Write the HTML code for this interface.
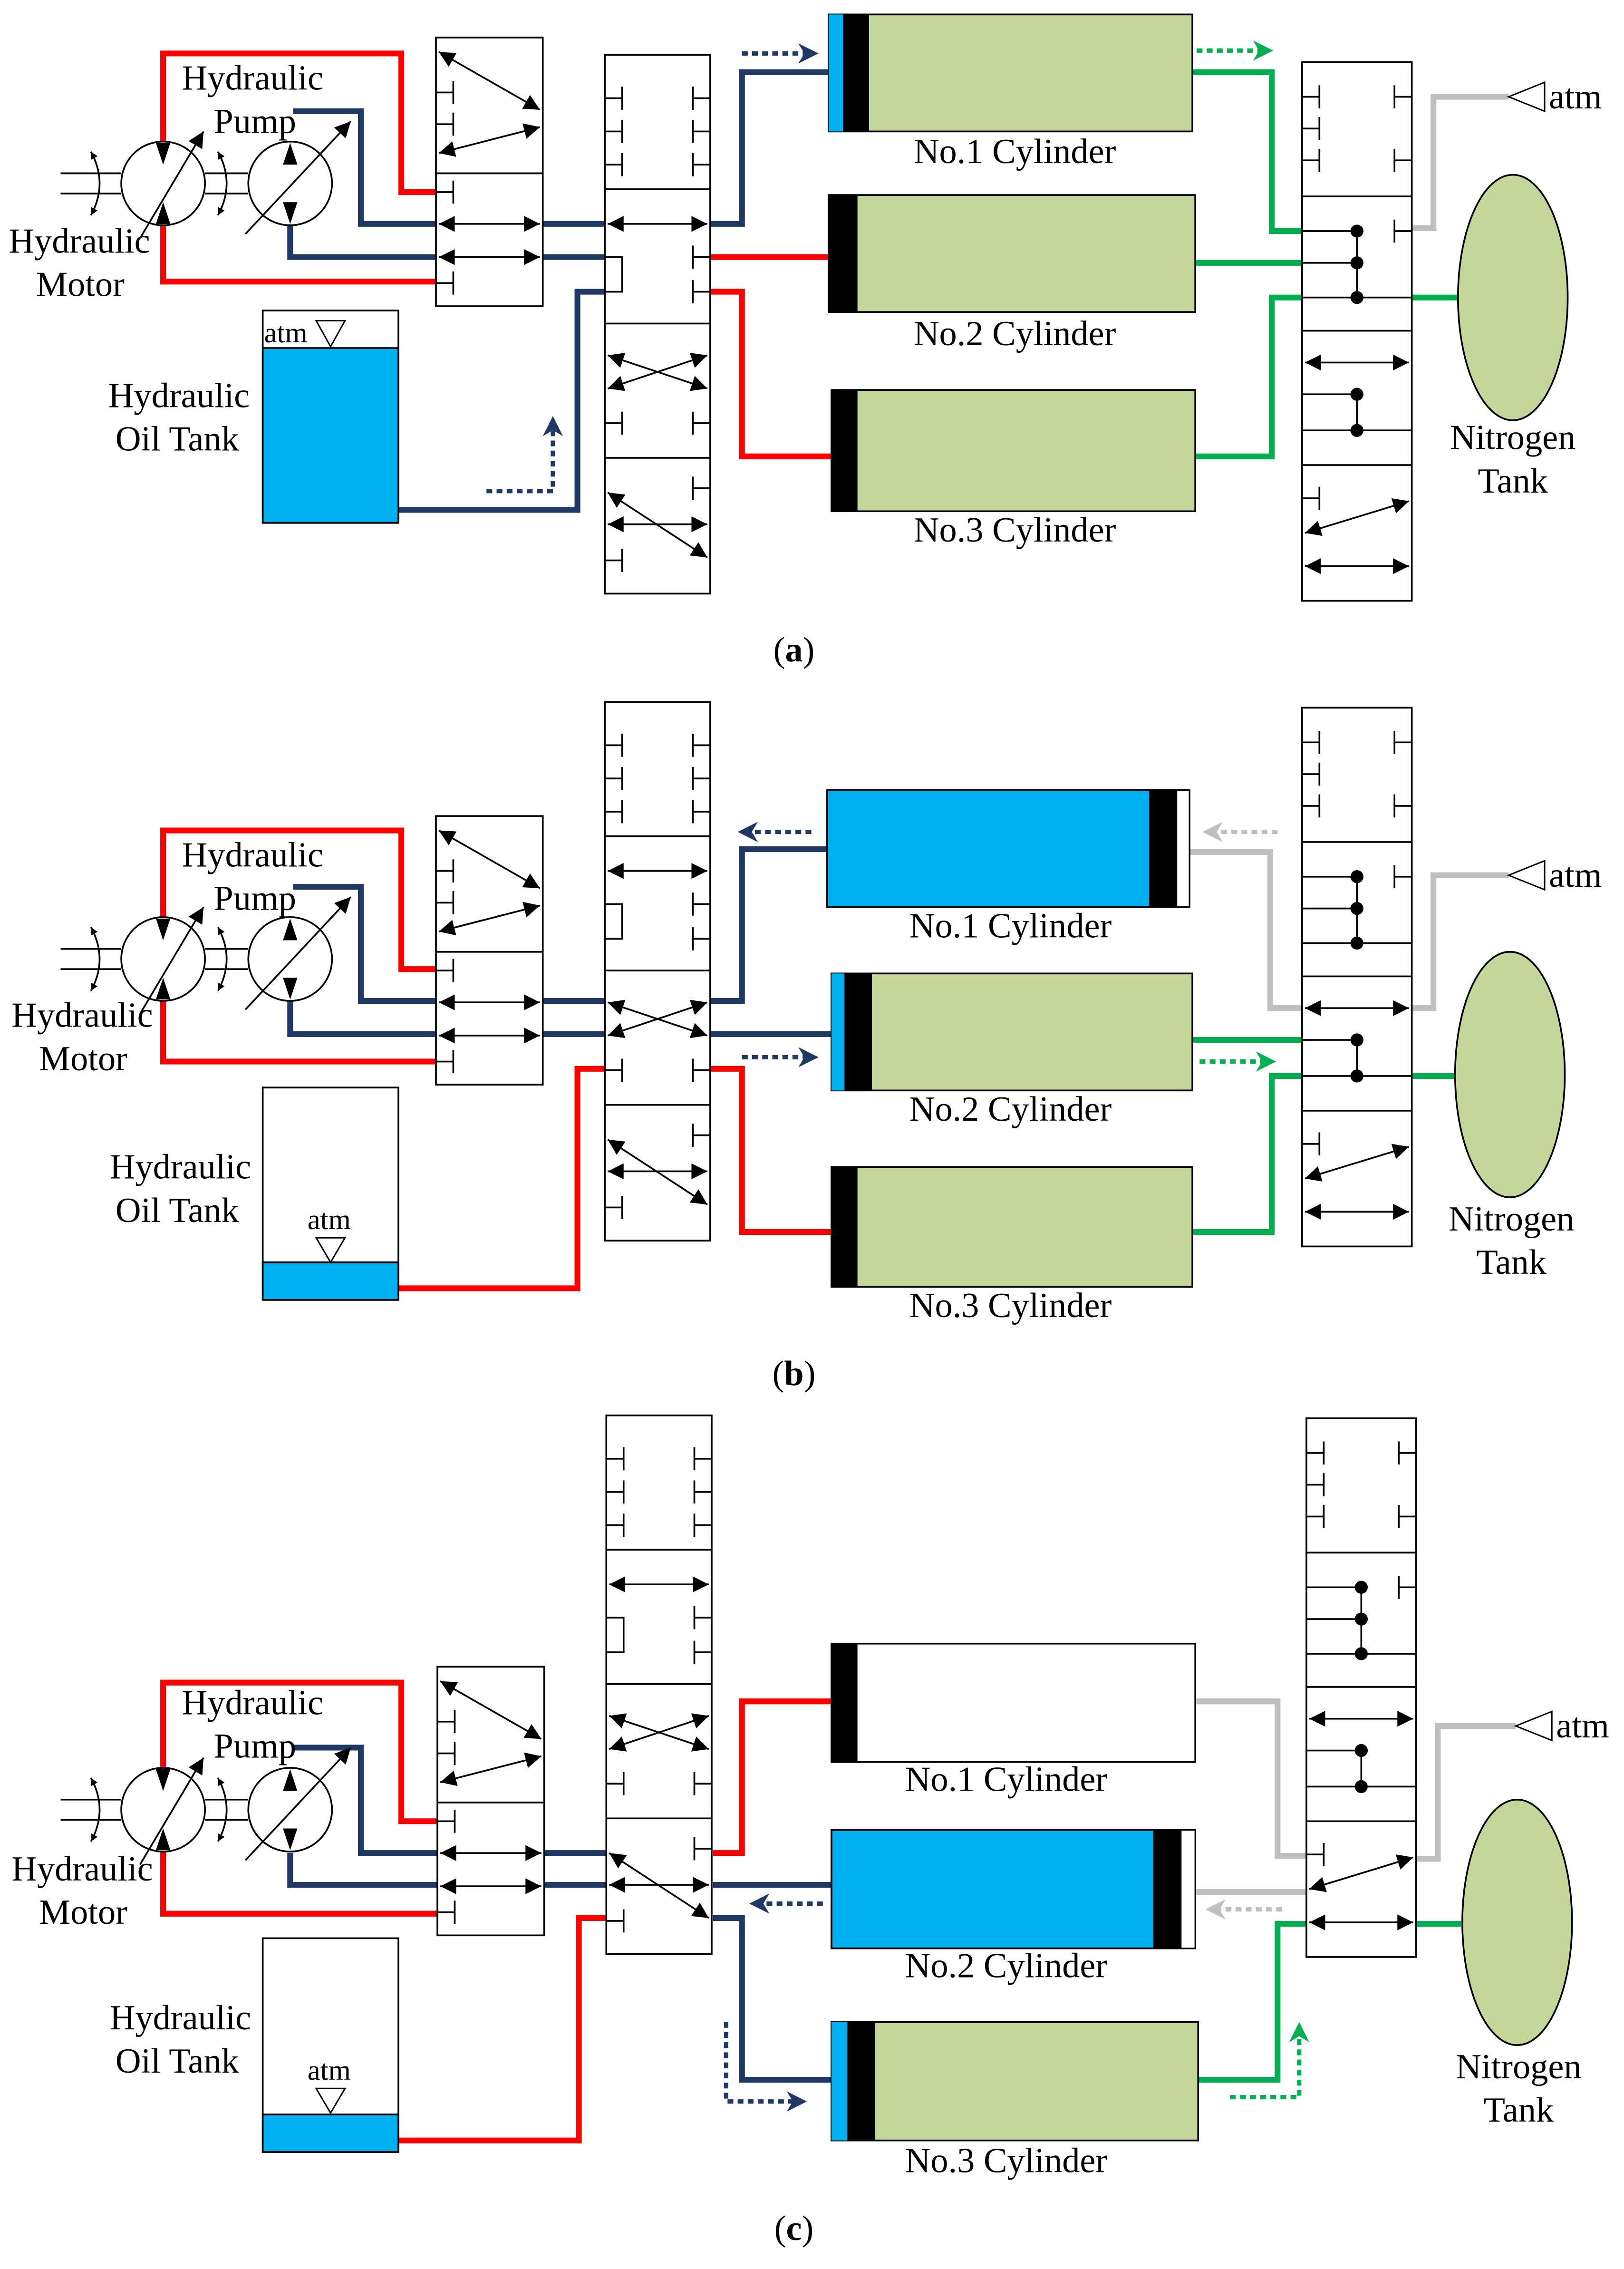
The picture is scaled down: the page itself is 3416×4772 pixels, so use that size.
<!DOCTYPE html>
<html><head><meta charset="utf-8">
<style>
html,body{margin:0;padding:0;background:#fff}
svg{display:block}
text{font-family:"Liberation Serif",serif;fill:#000}
</style></head>
<body>
<svg width="3416" height="4772" viewBox="0 0 1125 1571" preserveAspectRatio="none" xmlns="http://www.w3.org/2000/svg">
<defs>
<marker id="ah" viewBox="0 0 10 10" refX="10" refY="5" markerWidth="7" markerHeight="5" orient="auto-start-reverse" markerUnits="userSpaceOnUse"><path d="M0 0L10 5L0 10z" fill="#000"/></marker>
<marker id="ahb" viewBox="0 0 10 10" refX="10" refY="5" markerWidth="20" markerHeight="11" orient="auto-start-reverse" markerUnits="userSpaceOnUse"><path d="M0 0L10 5L0 10z" fill="#000"/></marker>
<marker id="dn" viewBox="0 0 10 10" refX="5" refY="5" markerWidth="14" markerHeight="16" orient="auto" markerUnits="userSpaceOnUse"><path d="M0 0L10 5L0 10L3 5z" fill="#1f3864"/></marker>
<marker id="dg" viewBox="0 0 10 10" refX="5" refY="5" markerWidth="14" markerHeight="16" orient="auto" markerUnits="userSpaceOnUse"><path d="M0 0L10 5L0 10L3 5z" fill="#00b050"/></marker>
<marker id="dy" viewBox="0 0 10 10" refX="5" refY="5" markerWidth="14" markerHeight="16" orient="auto" markerUnits="userSpaceOnUse"><path d="M0 0L10 5L0 10L3 5z" fill="#bfbfbf"/></marker>

<g id="mp" fill="none" stroke="#000" stroke-width="1.2">
 <circle cx="0" cy="0" r="29" fill="#fff"/>
 <circle cx="88" cy="0" r="29" fill="#fff"/>
 <path d="M-71 -7H-29M-71 7H-29M29 -7H59M29 7H59"/>
 <path d="M-50 -22Q-38 0 -50 22" marker-start="url(#ah)" marker-end="url(#ah)"/>
 <path d="M38 -22Q50 0 38 22" marker-start="url(#ah)" marker-end="url(#ah)"/>
 <line x1="-16" y1="38" x2="28" y2="-36" marker-end="url(#ahb)"/>
 <line x1="57" y1="35" x2="130" y2="-43" marker-end="url(#ahb)"/>
 <g fill="#000" stroke="none">
  <polygon points="-5,-28 5,-28 0,-13"/><polygon points="-5,28 5,28 0,13"/>
  <polygon points="83,-13 93,-13 88,-28"/><polygon points="83,13 93,13 88,28"/>
 </g>
</g>

<g id="v1" fill="none" stroke="#000" stroke-width="1.2">
 <rect x="0" y="0" width="74" height="186" fill="#fff"/>
 <line x1="0" y1="94" x2="74" y2="94"/>
 <line x1="2" y1="10" x2="72" y2="50" marker-start="url(#ahb)" marker-end="url(#ahb)"/>
 <line x1="2" y1="80" x2="72" y2="62" marker-start="url(#ahb)" marker-end="url(#ahb)"/>
 <path d="M0 38h12M12 30v16M0 60h12M12 52v16"/>
 <path d="M0 107h12M12 99v16M0 170h12M12 162v16"/>
 <line x1="2" y1="129" x2="72" y2="129" marker-start="url(#ahb)" marker-end="url(#ahb)"/>
 <line x1="2" y1="152" x2="72" y2="152" marker-start="url(#ahb)" marker-end="url(#ahb)"/>
</g>

<g id="v2" fill="none" stroke="#000" stroke-width="1.2">
 <rect x="0" y="0" width="73" height="373" fill="#fff"/>
 <path d="M0 93H73M0 186H73M0 279H73"/>
 <path d="M0 30h12M12 22v16M0 53h12M12 45v16M0 76h12M12 68v16"/>
 <path d="M73 30h-12M61 22v16M73 53h-12M61 45v16M73 76h-12M61 68v16"/>
 <line x1="2" y1="117" x2="71" y2="117" marker-start="url(#ahb)" marker-end="url(#ahb)"/>
 <path d="M0 140h12v24H0"/>
 <path d="M73 140h-12M61 132v16M73 164h-12M61 156v16"/>
 <line x1="2" y1="231" x2="71" y2="208" marker-start="url(#ahb)" marker-end="url(#ahb)"/>
 <line x1="2" y1="208" x2="71" y2="231" marker-start="url(#ahb)" marker-end="url(#ahb)"/>
 <path d="M0 255h12M12 247v16M73 255h-12M61 247v16"/>
 <line x1="2" y1="303" x2="71" y2="348" marker-start="url(#ahb)" marker-end="url(#ahb)"/>
 <line x1="2" y1="325" x2="71" y2="325" marker-start="url(#ahb)" marker-end="url(#ahb)"/>
 <path d="M73 300h-12M61 292v16M0 350h12M12 342v16"/>
</g>

<g id="v3" fill="none" stroke="#000" stroke-width="1.2">
 <rect x="0" y="0" width="76" height="373" fill="#fff"/>
 <path d="M0 93H76M0 186H76M0 279H76"/>
 <path d="M0 24h12M12 16v16M0 46h12M12 38v16M0 68h12M12 60v16"/>
 <path d="M76 24h-12M64 16v16M76 68h-12M64 60v16"/>
 <path d="M0 117H38M0 139H38M0 163H76M38 117V163M76 117h-12M64 109v16"/>
 <g fill="#000" stroke="none"><circle cx="38" cy="117" r="4.5"/><circle cx="38" cy="139" r="4.5"/><circle cx="38" cy="163" r="4.5"/><circle cx="38" cy="230" r="4.5"/><circle cx="38" cy="255" r="4.5"/></g>
 <line x1="2" y1="208" x2="74" y2="208" marker-start="url(#ahb)" marker-end="url(#ahb)"/>
 <path d="M0 230H38M0 255H76M38 230V255"/>
 <path d="M0 302h12M12 294v16"/>
 <line x1="2" y1="326" x2="74" y2="304" marker-start="url(#ahb)" marker-end="url(#ahb)"/>
 <line x1="2" y1="349" x2="74" y2="349" marker-start="url(#ahb)" marker-end="url(#ahb)"/>
</g>
</defs>

<rect width="1125" height="1571" fill="#fff"/>

<!-- ================= (a) ================= -->
<g fill="none" stroke-width="4">
 <path d="M113 105V37H278V133H302M113 150V195H302" stroke="#ff0000"/>
 <path d="M203 77H250V155H302M201 156V178H302M376 155H419M376 178H419M492 155H514V50H574M276 353H400V202H419" stroke="#1f3864"/>
 <path d="M492 178H574M492 202H514V316H576" stroke="#ff0000"/>
 <path d="M826 50H881V160H902M828 182H902M828 316H881V206H902M978 206H1010" stroke="#00b050"/>
 <path d="M978 158H993V67H1045" stroke="#bfbfbf"/>
</g>
<use href="#mp" x="113" y="127"/>
<use href="#v1" x="302" y="26"/>
<use href="#v2" x="419" y="38"/>
<use href="#v3" x="902" y="43"/>
<rect x="182" y="215" width="94" height="147" fill="#fff" stroke="#000" stroke-width="1.2"/>
<rect x="182" y="241" width="94" height="121" fill="#00b0f0" stroke="#000" stroke-width="1.2"/>
<text x="183" y="237" font-size="20">atm</text>
<path d="M219 222H239L229 240Z" fill="#fff" stroke="#000" stroke-width="1"/>
<rect x="574" y="10" width="252" height="81" fill="#c4d79b" stroke="#000" stroke-width="1.2"/>
<rect x="574" y="10" width="10" height="81" fill="#00b0f0"/><rect x="584" y="10" width="18" height="81" fill="#000"/>
<rect x="574" y="135" width="254" height="81" fill="#c4d79b" stroke="#000" stroke-width="1.2"/>
<rect x="574" y="135" width="20" height="81" fill="#000"/>
<rect x="576" y="270" width="252" height="84" fill="#c4d79b" stroke="#000" stroke-width="1.2"/>
<rect x="576" y="270" width="18" height="84" fill="#000"/>
<ellipse cx="1048" cy="206" rx="38" ry="85" fill="#c4d79b" stroke="#000" stroke-width="1.2"/>
<path d="M1045 67L1070 57V77Z" fill="#fff" stroke="#000" stroke-width="1"/>
<g fill="none" stroke-width="3" stroke-dasharray="4 3">
 <path d="M514 37H560" stroke="#1f3864" marker-end="url(#dn)"/>
 <path d="M829 35H875" stroke="#00b050" marker-end="url(#dg)"/>
 <path d="M337 340H383V295" stroke="#1f3864" marker-end="url(#dn)"/>
</g>
<g font-size="24.5">
 <text x="126" y="62">Hydraulic</text><text x="148" y="92">Pump</text>
 <text x="6" y="175">Hydraulic</text><text x="25" y="205">Motor</text>
 <text x="75" y="282">Hydraulic</text><text x="80" y="312">Oil Tank</text>
 <text x="703" y="113" text-anchor="middle">No.1 Cylinder</text>
 <text x="703" y="239" text-anchor="middle">No.2 Cylinder</text>
 <text x="703" y="375" text-anchor="middle">No.3 Cylinder</text>
 <text x="1073" y="75">atm</text>
 <text x="1048" y="311" text-anchor="middle">Nitrogen</text><text x="1048" y="341" text-anchor="middle">Tank</text>
 <text x="550" y="458" text-anchor="middle">(<tspan font-weight="bold">a</tspan>)</text>
</g>

<!-- ================= (b) ================= -->
<g fill="none" stroke-width="4">
 <path d="M113 642V575H278V671H302M113 688V735H302" stroke="#ff0000"/>
 <path d="M203 614H250V693H302M201 693V716H302M376 693H419M376 716H419M492 693H514V588H573M492 716H576" stroke="#1f3864"/>
 <path d="M492 740H514V853H576M276 892H400V740H419" stroke="#ff0000"/>
 <path d="M826 720H902M826 853H881V745H902M978 745H1008" stroke="#00b050"/>
 <path d="M824 590H880V698H902M978 698H993V606H1045" stroke="#bfbfbf"/>
</g>
<use href="#mp" x="113" y="664"/>
<use href="#v1" x="302" y="565"/>
<use href="#v2" x="419" y="486"/>
<use href="#v3" x="902" y="490"/>
<rect x="182" y="753" width="94" height="147" fill="#fff" stroke="#000" stroke-width="1.2"/>
<rect x="182" y="874" width="94" height="26" fill="#00b0f0" stroke="#000" stroke-width="1.2"/>
<text x="228" y="851" font-size="20" text-anchor="middle">atm</text>
<path d="M219 857H239L229 874Z" fill="#fff" stroke="#000" stroke-width="1"/>
<rect x="573" y="547" width="251" height="81" fill="#00b0f0" stroke="#000" stroke-width="1.2"/>
<rect x="796" y="547" width="19" height="81" fill="#000"/><rect x="815" y="547" width="9" height="81" fill="#fff" stroke="#000" stroke-width="1"/>
<rect x="576" y="674" width="250" height="81" fill="#c4d79b" stroke="#000" stroke-width="1.2"/>
<rect x="576" y="674" width="9" height="81" fill="#00b0f0"/><rect x="585" y="674" width="19" height="81" fill="#000"/>
<rect x="576" y="808" width="250" height="83" fill="#c4d79b" stroke="#000" stroke-width="1.2"/>
<rect x="576" y="808" width="18" height="83" fill="#000"/>
<ellipse cx="1046" cy="744" rx="38" ry="85" fill="#c4d79b" stroke="#000" stroke-width="1.2"/>
<path d="M1045 606L1070 596V616Z" fill="#fff" stroke="#000" stroke-width="1"/>
<g fill="none" stroke-width="3" stroke-dasharray="4 3">
 <path d="M562 576H518" stroke="#1f3864" marker-end="url(#dn)"/>
 <path d="M885 576H840" stroke="#bfbfbf" marker-end="url(#dy)"/>
 <path d="M514 732H560" stroke="#1f3864" marker-end="url(#dn)"/>
 <path d="M831 735H877" stroke="#00b050" marker-end="url(#dg)"/>
</g>
<g font-size="24.5">
 <text x="126" y="600">Hydraulic</text><text x="148" y="630">Pump</text>
 <text x="8" y="711">Hydraulic</text><text x="27" y="741">Motor</text>
 <text x="76" y="816">Hydraulic</text><text x="80" y="846">Oil Tank</text>
 <text x="700" y="649" text-anchor="middle">No.1 Cylinder</text>
 <text x="700" y="776" text-anchor="middle">No.2 Cylinder</text>
 <text x="700" y="912" text-anchor="middle">No.3 Cylinder</text>
 <text x="1073" y="614">atm</text>
 <text x="1047" y="852" text-anchor="middle">Nitrogen</text><text x="1047" y="882" text-anchor="middle">Tank</text>
 <text x="550" y="959" text-anchor="middle">(<tspan font-weight="bold">b</tspan>)</text>
</g>

<!-- ================= (c) ================= -->
<g fill="none" stroke-width="4">
 <path d="M113 1230V1165H278V1261H303M113 1276V1325H303" stroke="#ff0000"/>
 <path d="M203 1210H250V1283H303M201 1283V1305H303M377 1283H420M377 1305H420M494 1305H576M494 1328H514V1440H576" stroke="#1f3864"/>
 <path d="M494 1283H514V1178H576M276 1482H401V1328H420" stroke="#ff0000"/>
 <path d="M830 1440H885V1332H905M981 1332H1012" stroke="#00b050"/>
 <path d="M828 1178H885V1285H905M828 1310H905M981 1287H996V1195H1050" stroke="#bfbfbf"/>
</g>
<use href="#mp" x="113" y="1253"/>
<use href="#v1" x="303" y="1154"/>
<use href="#v2" x="420" y="980"/>
<use href="#v3" x="905" y="982"/>
<rect x="182" y="1342" width="94" height="148" fill="#fff" stroke="#000" stroke-width="1.2"/>
<rect x="182" y="1464" width="94" height="26" fill="#00b0f0" stroke="#000" stroke-width="1.2"/>
<text x="228" y="1440" font-size="20" text-anchor="middle">atm</text>
<path d="M219 1446H239L229 1463Z" fill="#fff" stroke="#000" stroke-width="1"/>
<rect x="576" y="1138" width="252" height="82" fill="#fff" stroke="#000" stroke-width="1.2"/>
<rect x="576" y="1138" width="18" height="82" fill="#000"/>
<rect x="576" y="1267" width="252" height="82" fill="#00b0f0" stroke="#000" stroke-width="1.2"/>
<rect x="799" y="1267" width="19" height="82" fill="#000"/><rect x="818" y="1267" width="10" height="82" fill="#fff" stroke="#000" stroke-width="1"/>
<rect x="576" y="1400" width="254" height="82" fill="#c4d79b" stroke="#000" stroke-width="1.2"/>
<rect x="576" y="1400" width="11" height="82" fill="#00b0f0"/><rect x="587" y="1400" width="19" height="82" fill="#000"/>
<ellipse cx="1051" cy="1331" rx="38" ry="85" fill="#c4d79b" stroke="#000" stroke-width="1.2"/>
<path d="M1050 1195L1075 1185V1205Z" fill="#fff" stroke="#000" stroke-width="1"/>
<g fill="none" stroke-width="3" stroke-dasharray="4 3">
 <path d="M570 1318H526" stroke="#1f3864" marker-end="url(#dn)"/>
 <path d="M888 1322H842" stroke="#bfbfbf" marker-end="url(#dy)"/>
 <path d="M503 1400V1455H552" stroke="#1f3864" marker-end="url(#dn)"/>
 <path d="M852 1452H900V1407" stroke="#00b050" marker-end="url(#dg)"/>
</g>
<g font-size="24.5">
 <text x="126" y="1187">Hydraulic</text><text x="148" y="1217">Pump</text>
 <text x="8" y="1302">Hydraulic</text><text x="27" y="1332">Motor</text>
 <text x="76" y="1405">Hydraulic</text><text x="80" y="1435">Oil Tank</text>
 <text x="697" y="1240" text-anchor="middle">No.1 Cylinder</text>
 <text x="697" y="1369" text-anchor="middle">No.2 Cylinder</text>
 <text x="697" y="1504" text-anchor="middle">No.3 Cylinder</text>
 <text x="1078" y="1203">atm</text>
 <text x="1052" y="1439" text-anchor="middle">Nitrogen</text><text x="1052" y="1469" text-anchor="middle">Tank</text>
 <text x="550" y="1551" text-anchor="middle">(<tspan font-weight="bold">c</tspan>)</text>
</g>
</svg>
</body></html>
